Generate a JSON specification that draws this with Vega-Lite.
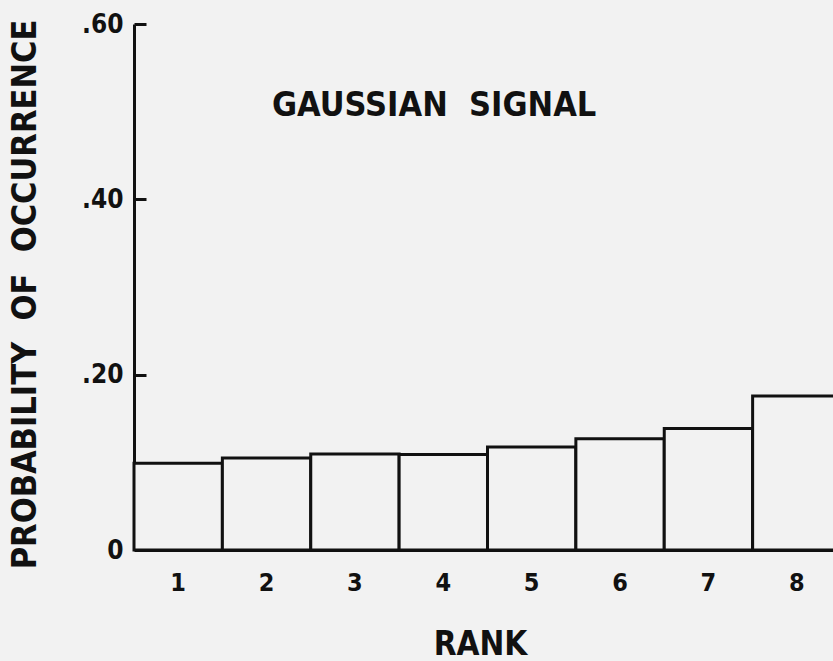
{
  "$schema": "https://vega.github.io/schema/vega-lite/v6.json",
  "width": 697,
  "height": 526,
  "autosize": "none",
  "padding": {"left": 134, "top": 24, "right": 2, "bottom": 111},
  "background": "#f2f2f2",
  "title": {
    "text": "GAUSSIAN\u00a0\u00a0SIGNAL",
    "anchor": "start",
    "frame": "group",
    "dx": 138,
    "dy": 139,
    "offset": 0,
    "baseline": "alphabetic",
    "font": "DejaVu Sans Condensed, DejaVu Sans",
    "fontSize": 34,
    "fontWeight": "bold",
    "color": "#111111"
  },
  "data": {
    "values": [
      {"rank": 1, "probability": 0.099},
      {"rank": 2, "probability": 0.105},
      {"rank": 3, "probability": 0.1095},
      {"rank": 4, "probability": 0.109},
      {"rank": 5, "probability": 0.1175},
      {"rank": 6, "probability": 0.127},
      {"rank": 7, "probability": 0.1385},
      {"rank": 8, "probability": 0.1757}
    ]
  },
  "layer": [
    {
      "mark": {"type": "bar", "fill": "#f2f2f2", "stroke": "#111111", "strokeWidth": 3},
      "encoding": {
        "x": {
          "field": "rank",
          "type": "ordinal",
          "scale": {"range": [0, 707], "paddingInner": 0, "paddingOuter": 0},
          "axis": {
            "title": "RANK",
            "titleFont": "DejaVu Sans Condensed, DejaVu Sans",
            "titleFontSize": 33,
            "titleFontWeight": "bold",
            "titleColor": "#111111",
            "titleX": 346,
            "titleY": 111,
            "titleBaseline": "bottom",
            "titleAnchor": "middle",
            "ticks": false,
            "labelAngle": 0,
            "labelPadding": 20,
            "labelFont": "DejaVu Sans Condensed, DejaVu Sans",
            "labelFontSize": 25,
            "labelFontWeight": "bold",
            "labelColor": "#111111",
            "domainColor": "#111111",
            "domainWidth": 3
          }
        },
        "y": {
          "field": "probability",
          "type": "quantitative",
          "scale": {"domain": [0, 0.6], "nice": false, "zero": true},
          "axis": {
            "orient": "left",
            "title": "PROBABILITY\u00a0\u00a0OF\u00a0\u00a0OCCURRENCE",
            "titleFont": "DejaVu Sans Condensed, DejaVu Sans",
            "titleFontSize": 34,
            "titleFontWeight": "bold",
            "titleColor": "#111111",
            "titleAngle": -90,
            "titleX": -109,
            "titleY": 270,
            "titleBaseline": "middle",
            "titleAnchor": "middle",
            "values": [0, 0.2, 0.4, 0.6],
            "labelExpr": "datum.value == 0 ? '0' : replace(format(datum.value, '.2f'), '0.', '.')",
            "ticks": false,
            "labelPadding": 11,
            "labelFont": "DejaVu Sans Condensed, DejaVu Sans",
            "labelFontSize": 26,
            "labelFontWeight": "bold",
            "labelColor": "#111111",
            "domainColor": "#111111",
            "domainWidth": 3,
            "grid": false
          }
        }
      }
    },
    {
      "mark": {"type": "point", "opacity": 0},
      "encoding": {
        "y": {
          "field": "probability",
          "type": "quantitative",
          "scale": {"domain": [0, 0.6], "nice": false, "zero": true},
          "axis": {
            "orient": "right",
            "offset": -697,
            "title": null,
            "labels": false,
            "domain": false,
            "grid": false,
            "values": [0.2, 0.4, 0.6],
            "tickSize": 12,
            "tickWidth": 3,
            "tickColor": "#111111"
          }
        }
      }
    }
  ],
  "resolve": {"axis": {"y": "independent"}},
  "config": {"view": {"stroke": null}}
}
